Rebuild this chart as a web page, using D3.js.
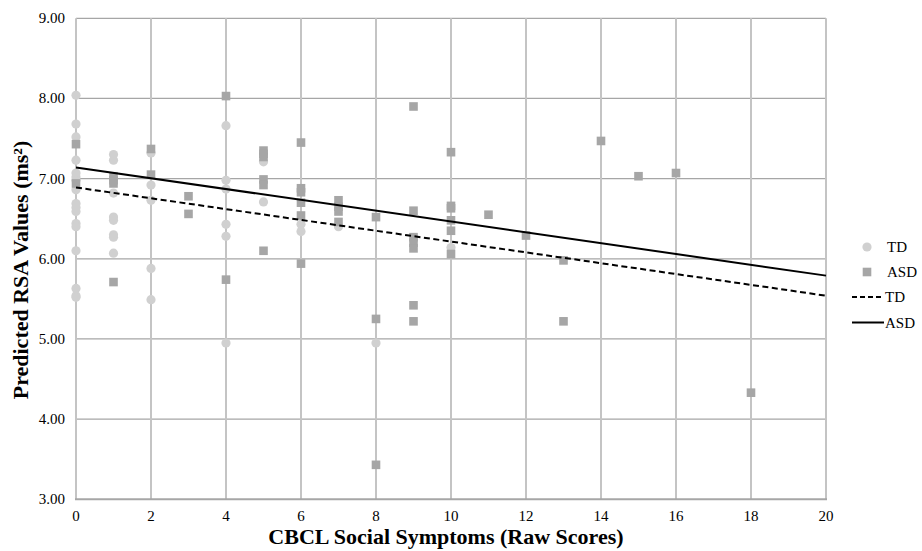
<!DOCTYPE html>
<html>
<head>
<meta charset="utf-8">
<script src="https://cdn.jsdelivr.net/npm/d3@7"></script>
<style>
  body { margin: 0; background: #fff; }
  text { font-family: "Liberation Serif", "Times New Roman", serif; }
</style>
</head>
<body>
<div id="vizDiv"></div>
<script>
var width = 922
var height = 551

// TD children (circles)
var tdX = [0,0,0,0,0,0,0,0,0,0,0,0,0,0,0,0,0,
           1,1,1,1,1,1,1,1,
           2,2,2,2,2,
           4,4,4,4,4,4,
           5,5, 6,6, 7, 8, 10]
var tdY = [8.04,7.68,7.52,7.23,7.07,7.02,6.98,6.86,6.69,6.64,6.59,6.44,6.40,6.10,5.63,5.54,5.52,
           7.30,7.23,6.82,6.52,6.48,6.30,6.27,6.07,
           7.32,6.92,6.73,5.88,5.49,
           7.66,6.98,6.87,6.43,6.28,4.95,
           7.21,6.71, 6.43,6.34, 6.40, 4.95, 6.14]

// ASD children (squares)
var asdX = [0,0, 1,1,1,1, 2,2, 3,3, 4,4,
            5,5,5,5,5,5, 6,6,6,6,6,6, 7,7,7,7, 8,8,8,
            9,9,9,9,9,9,9, 10,10,10,10,10,10,
            11, 12, 13,13, 14, 15, 16, 18]
var asdY = [7.43,6.94, 7.03,6.98,6.94,5.71, 7.37,7.05, 6.78,6.56, 8.03,5.74,
            7.35,7.31,7.27,6.99,6.92,6.10, 7.45,6.88,6.83,6.70,6.54,5.94, 6.73,6.65,6.59,6.46, 6.52,5.25,3.43,
            7.90,6.60,6.27,6.20,6.13,5.42,5.22, 7.33,6.66,6.63,6.48,6.35,6.06,
            6.55, 6.29, 5.98,5.22, 7.47, 7.03, 7.07, 4.33]

// linear trend endpoints
var tdTrend = [[0, 6.89], [20, 5.54]]
var asdTrend = [[0, 7.14], [20, 5.79]]

var xTicks = [0,2,4,6,8,10,12,14,16,18,20]
var yTicks = [3,4,5,6,7,8,9]

var legendItems = ["TD", "ASD", "TD", "ASD"]

var svg = d3.select("#vizDiv")
  .append("svg")
  .attr("width", width)
  .attr("height", height)

var x = d3.scaleLinear().domain([0, 20]).range([76, 826])
var y = d3.scaleLinear().domain([3, 9]).range([499.3, 18.3])

// horizontal grid
svg.append("g")
  .selectAll("line")
  .data(yTicks.filter(function(d) { return d > 3 }))
  .enter().append("line")
  .attr("x1", x(0)).attr("x2", x(20))
  .attr("y1", function(d) { return y(d) }).attr("y2", function(d) { return y(d) })
  .attr("stroke", "#a6a6a6")
  .attr("stroke-width", 1.2)

// vertical grid
svg.append("g")
  .selectAll("line")
  .data(xTicks)
  .enter().append("line")
  .attr("x1", function(d) { return x(d) }).attr("x2", function(d) { return x(d) })
  .attr("y1", y(9)).attr("y2", y(3))
  .attr("stroke", "#c4c4c4")
  .attr("stroke-width", 2)

// bottom axis line
svg.append("line")
  .attr("x1", x(0) - 1).attr("x2", x(20) + 1)
  .attr("y1", y(3)).attr("y2", y(3))
  .attr("stroke", "#a6a6a6")
  .attr("stroke-width", 2)

// y tick labels
svg.append("g")
  .selectAll("text")
  .data(yTicks)
  .enter().append("text")
  .attr("x", 65)
  .attr("y", function(d) { return y(d) + 5 })
  .attr("text-anchor", "end")
  .style("font-size", "15px")
  .text(function(d) { return d3.format(".2f")(d) })

// x tick labels
svg.append("g")
  .selectAll("text")
  .data(xTicks)
  .enter().append("text")
  .attr("x", function(d) { return x(d) })
  .attr("y", 521)
  .attr("text-anchor", "middle")
  .style("font-size", "15px")
  .text(function(d) { return d })

// TD points
svg.append("g")
  .selectAll("circle")
  .data(tdX)
  .enter().append("circle")
  .attr("cx", function(d) { return x(d) })
  .attr("cy", function(d, i) { return y(tdY[i]) })
  .attr("r", 4.6)
  .style("fill", "#d0d0d0")

// ASD points
svg.append("g")
  .selectAll("rect")
  .data(asdX)
  .enter().append("rect")
  .attr("x", function(d) { return x(d) - 4.3 })
  .attr("y", function(d, i) { return y(asdY[i]) - 4.3 })
  .attr("width", 8.6)
  .attr("height", 8.6)
  .style("fill", "#a6a6a6")

var line = d3.line()
  .x(function(d) { return x(d[0]) })
  .y(function(d) { return y(d[1]) })

svg.append("path")
  .attr("d", line(tdTrend))
  .attr("fill", "none")
  .attr("stroke", "black")
  .attr("stroke-width", 2)
  .attr("stroke-dasharray", "6,3.5")

svg.append("path")
  .attr("d", line(asdTrend))
  .attr("fill", "none")
  .attr("stroke", "black")
  .attr("stroke-width", 2)

// axis titles
svg.append("text")
  .attr("x", 446)
  .attr("y", 544)
  .attr("text-anchor", "middle")
  .style("font-size", "22px")
  .style("font-weight", "bold")
  .text("CBCL Social Symptoms (Raw Scores)")

svg.append("text")
  .attr("transform", "translate(28," + 270 + ") rotate(-90)")
  .attr("text-anchor", "middle")
  .style("font-size", "22px")
  .style("font-weight", "bold")
  .text("Predicted RSA Values (ms²)")

// legend
var legendY = [247, 272, 297, 322.5]
var legend = svg.append("g")

legend.append("circle")
  .attr("cx", 867).attr("cy", legendY[0]).attr("r", 4.6)
  .style("fill", "#d0d0d0")
legend.append("rect")
  .attr("x", 867 - 4.3).attr("y", legendY[1] - 4.3)
  .attr("width", 8.6).attr("height", 8.6)
  .style("fill", "#a6a6a6")
legend.append("line")
  .attr("x1", 852).attr("x2", 884)
  .attr("y1", legendY[2]).attr("y2", legendY[2])
  .attr("stroke", "black").attr("stroke-width", 2)
  .attr("stroke-dasharray", "5,3")
legend.append("line")
  .attr("x1", 852).attr("x2", 884)
  .attr("y1", legendY[3]).attr("y2", legendY[3])
  .attr("stroke", "black").attr("stroke-width", 2)

legend.selectAll("text.leg")
  .data(legendItems)
  .enter().append("text")
  .attr("class", "leg")
  .attr("x", function(d, i) { return i < 2 ? 887 : 885 })
  .attr("y", function(d, i) { return legendY[i] + 5 })
  .style("font-size", "15px")
  .text(function(d) { return d })
</script>
</body>
</html>
